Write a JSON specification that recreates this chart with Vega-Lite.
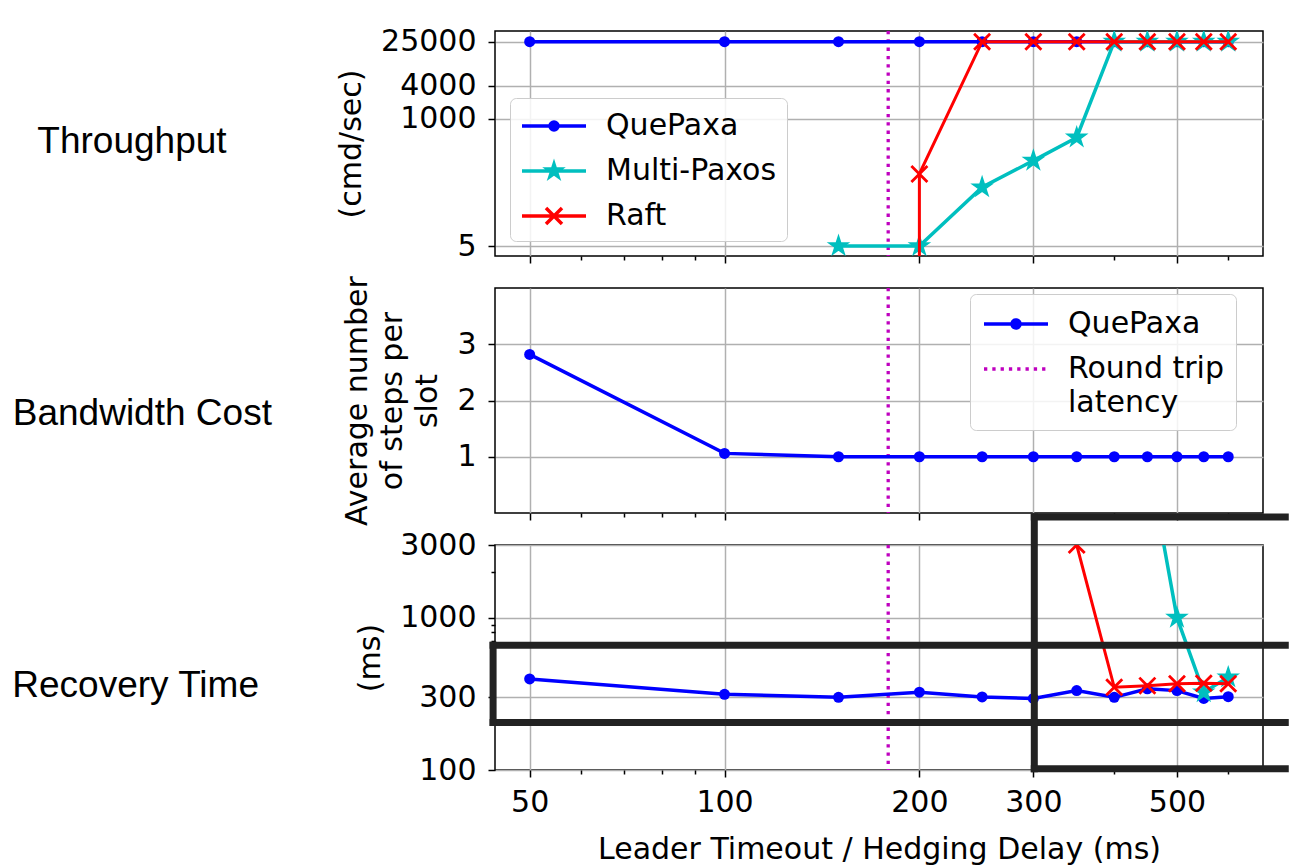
{
  "$schema": "https://vega.github.io/schema/vega-lite/v6.json",
  "background": "white",
  "padding": {"left": 11, "top": 25, "right": 0, "bottom": 0},
  "config": {
    "font": "DejaVu Sans",
    "view": {"stroke": "#000000", "strokeWidth": 1.5},
    "axis": {
      "domain": false,
      "labelFont": "DejaVu Sans", "labelFontSize": 30, "labelColor": "#000000",
      "titleFont": "DejaVu Sans", "titleFontSize": 30, "titleFontWeight": "normal", "titleColor": "#000000",
      "tickColor": "#000000", "tickWidth": 1.5, "tickSize": 7,
      "gridColor": "#b0b0b0", "gridWidth": 1.5, "gridOpacity": 1,
      "labelPadding": 12, "titlePadding": 14, "labelFlush": false, "labelOverlap": false
    },
    "legend": {
      "labelFont": "DejaVu Sans", "labelFontSize": 30, "labelColor": "#000000", "labelLimit": 500,
      "strokeColor": "#cccccc", "fillColor": "rgba(255,255,255,0.85)", "cornerRadius": 6,
      "padding": 10, "symbolStrokeWidth": 3.5, "symbolSize": 1024, "labelOffset": 50, "rowPadding": 12
    }
  },
  "datasets": {
    "tp": [
      {"s": "QuePaxa", "x": 50, "v": 25000, "o": 0},
      {"s": "QuePaxa", "x": 100, "v": 25000, "o": 1},
      {"s": "QuePaxa", "x": 150, "v": 25000, "o": 2},
      {"s": "QuePaxa", "x": 200, "v": 25000, "o": 3},
      {"s": "QuePaxa", "x": 250, "v": 25000, "o": 4},
      {"s": "QuePaxa", "x": 300, "v": 25000, "o": 5},
      {"s": "QuePaxa", "x": 350, "v": 25000, "o": 6},
      {"s": "QuePaxa", "x": 400, "v": 25000, "o": 7},
      {"s": "QuePaxa", "x": 450, "v": 25000, "o": 8},
      {"s": "QuePaxa", "x": 500, "v": 25000, "o": 9},
      {"s": "QuePaxa", "x": 550, "v": 25000, "o": 10},
      {"s": "QuePaxa", "x": 600, "v": 25000, "o": 11},
      {"s": "Multi-Paxos", "x": 150, "v": 5, "o": 0},
      {"s": "Multi-Paxos", "x": 200, "v": 5, "o": 1},
      {"s": "Multi-Paxos", "x": 250, "v": 58, "o": 2},
      {"s": "Multi-Paxos", "x": 300, "v": 176, "o": 3},
      {"s": "Multi-Paxos", "x": 350, "v": 462, "o": 4},
      {"s": "Multi-Paxos", "x": 400, "v": 25000, "o": 5},
      {"s": "Multi-Paxos", "x": 450, "v": 25000, "o": 6},
      {"s": "Multi-Paxos", "x": 500, "v": 25000, "o": 7},
      {"s": "Multi-Paxos", "x": 550, "v": 25000, "o": 8},
      {"s": "Multi-Paxos", "x": 600, "v": 25000, "o": 9},
      {"s": "Raft", "x": 200, "v": 1, "o": 0},
      {"s": "Raft", "x": 200, "v": 101, "o": 1},
      {"s": "Raft", "x": 250, "v": 25000, "o": 2},
      {"s": "Raft", "x": 300, "v": 25000, "o": 3},
      {"s": "Raft", "x": 350, "v": 25000, "o": 4},
      {"s": "Raft", "x": 400, "v": 25000, "o": 5},
      {"s": "Raft", "x": 450, "v": 25000, "o": 6},
      {"s": "Raft", "x": 500, "v": 25000, "o": 7},
      {"s": "Raft", "x": 550, "v": 25000, "o": 8},
      {"s": "Raft", "x": 600, "v": 25000, "o": 9}
    ],
    "bw": [
      {"s": "QuePaxa", "x": 50, "v": 2.82},
      {"s": "QuePaxa", "x": 100, "v": 1.06},
      {"s": "QuePaxa", "x": 150, "v": 1.0},
      {"s": "QuePaxa", "x": 200, "v": 1.0},
      {"s": "QuePaxa", "x": 250, "v": 1.0},
      {"s": "QuePaxa", "x": 300, "v": 1.0},
      {"s": "QuePaxa", "x": 350, "v": 1.0},
      {"s": "QuePaxa", "x": 400, "v": 1.0},
      {"s": "QuePaxa", "x": 450, "v": 1.0},
      {"s": "QuePaxa", "x": 500, "v": 1.0},
      {"s": "QuePaxa", "x": 550, "v": 1.0},
      {"s": "QuePaxa", "x": 600, "v": 1.0}
    ],
    "rc": [
      {"s": "QuePaxa", "x": 50, "v": 396},
      {"s": "QuePaxa", "x": 100, "v": 314},
      {"s": "QuePaxa", "x": 150, "v": 300},
      {"s": "QuePaxa", "x": 200, "v": 324},
      {"s": "QuePaxa", "x": 250, "v": 302},
      {"s": "QuePaxa", "x": 300, "v": 295},
      {"s": "QuePaxa", "x": 350, "v": 332},
      {"s": "QuePaxa", "x": 400, "v": 300},
      {"s": "QuePaxa", "x": 450, "v": 341},
      {"s": "QuePaxa", "x": 500, "v": 332},
      {"s": "QuePaxa", "x": 550, "v": 295},
      {"s": "QuePaxa", "x": 600, "v": 303},
      {"s": "Multi-Paxos", "x": 450, "v": 12000},
      {"s": "Multi-Paxos", "x": 500, "v": 1000},
      {"s": "Multi-Paxos", "x": 550, "v": 324},
      {"s": "Multi-Paxos", "x": 600, "v": 406},
      {"s": "Raft", "x": 350, "v": 3000},
      {"s": "Raft", "x": 400, "v": 349},
      {"s": "Raft", "x": 450, "v": 358},
      {"s": "Raft", "x": 500, "v": 368},
      {"s": "Raft", "x": 550, "v": 371},
      {"s": "Raft", "x": 600, "v": 368}
    ],
    "rtt": [{"s": "Round trip latency", "x": 179}],
    "box": [
      {"x": 43.9, "x2": 735, "y": 659, "y2": 659},
      {"x": 43.9, "x2": 735, "y": 205, "y2": 205},
      {"x": 43.9, "x2": 43.9, "y": 205, "y2": 659},
      {"x": 301, "x2": 735, "y": 4584, "y2": 4584},
      {"x": 301, "x2": 301, "y": 4584, "y2": 102},
      {"x": 301, "x2": 735, "y": 102, "y2": 102}
    ]
  },
  "spacing": 32,
  "bounds": "flush",
  "resolve": {"scale": {"color": "independent"}},
  "vconcat": [
    {
      "width": 768,
      "height": 225,
      "title": {"text": "Throughput", "orient": "left", "frame": "group", "anchor": "middle", "angle": 0, "align": "left", "baseline": "middle", "offset": 110, "dy": -2, "font": "Liberation Sans", "fontSize": 37, "fontWeight": "normal", "color": "#000000"},
      "resolve": {"axis": {"x": "independent", "y": "independent"}},
      "layer": [
        {
          "data": {"name": "rtt"},
          "mark": {"type": "rule", "color": "#bf00bf", "strokeWidth": 3.3, "strokeDash": [3.3, 5]},
          "encoding": {
            "x": {"field": "x", "type": "quantitative", "scale": {"type": "log", "domain": [44.2, 679], "nice": false},
                  "axis": {"orient": "bottom", "values": [60, 70, 80, 90, 400, 600], "labels": false, "grid": false, "tickSize": 4, "title": null}}
          }
        },
        {
          "data": {"name": "tp"},
          "transform": [{"filter": "datum.s == 'QuePaxa'"}],
          "mark": {"type": "line", "strokeWidth": 3.5, "clip": true},
          "encoding": {
            "x": {"field": "x", "type": "quantitative", "scale": {"type": "log", "domain": [44.2, 679], "nice": false},
                  "axis": {"orient": "bottom", "values": [50, 100, 200, 300, 500], "labels": false, "grid": true, "title": null}},
            "y": {"field": "v", "type": "quantitative", "scale": {"type": "log", "domain": [3.3, 39000], "nice": false},
                  "axis": {"orient": "left", "values": [5, 1000, 4000, 25000], "format": "d", "grid": true, "title": "(cmd/sec)"}},
            "color": {"field": "s", "type": "nominal",
              "scale": {"domain": ["QuePaxa", "Multi-Paxos", "Raft"], "range": ["#0000ff", "#00bfbf", "#ff0000"]},
              "legend": {
                "orient": "none", "legendX": 15, "legendY": 67, "title": null,
                "encode": {
                  "symbols": {"update": {
                    "shape": {"signal": "datum.value == 'QuePaxa' ? 'M-1,0L3,0M1.25,0A0.25,0.25,0,1,1,0.75,0A0.25,0.25,0,1,1,1.25,0Z' : datum.value == 'Multi-Paxos' ? 'M-1,0L3,0M1,-0.42L1.0943,-0.1298L1.3994,-0.1298L1.1525,0.0496L1.247,0.3398L1,0.1604L0.753,0.3398L0.8475,0.0496L0.6006,-0.1298L0.9057,-0.1298Z' : 'M-1,0L3,0M0.5,-0.5L1.5,0.5M0.5,0.5L1.5,-0.5'"},
                    "fill": {"signal": "datum.value == 'QuePaxa' ? '#0000ff' : datum.value == 'Multi-Paxos' ? '#00bfbf' : '#ff0000'"},
                    "stroke": {"signal": "datum.value == 'QuePaxa' ? '#0000ff' : datum.value == 'Multi-Paxos' ? '#00bfbf' : '#ff0000'"},
                    "opacity": {"value": 1}, "fillOpacity": {"value": 1}, "strokeOpacity": {"value": 1}
                  }}
                }
              }},
            "order": {"field": "o", "type": "quantitative"}
          }
        },
        {
          "data": {"name": "tp"},
          "transform": [{"filter": "datum.s == 'QuePaxa'"}],
          "mark": {"type": "point", "shape": "circle", "filled": true, "size": 121, "color": "#0000ff", "opacity": 1, "clip": true},
          "encoding": {
            "x": {"field": "x", "type": "quantitative", "scale": {"type": "log", "domain": [44.2, 679], "nice": false}, "axis": null},
            "y": {"field": "v", "type": "quantitative", "scale": {"type": "log", "domain": [3.3, 39000], "nice": false}, "axis": null}
          }
        },
        {
          "data": {"name": "tp"},
          "transform": [{"filter": "datum.s == 'Multi-Paxos'"}],
          "mark": {"type": "line", "strokeWidth": 3.5, "clip": true},
          "encoding": {
            "x": {"field": "x", "type": "quantitative", "scale": {"type": "log", "domain": [44.2, 679], "nice": false}, "axis": null},
            "y": {"field": "v", "type": "quantitative", "scale": {"type": "log", "domain": [3.3, 39000], "nice": false}, "axis": null},
            "color": {"field": "s", "type": "nominal", "scale": {"domain": ["QuePaxa", "Multi-Paxos", "Raft"], "range": ["#0000ff", "#00bfbf", "#ff0000"]}, "legend": null},
            "order": {"field": "o", "type": "quantitative"}
          }
        },
        {
          "data": {"name": "tp"},
          "transform": [{"filter": "datum.s == 'Multi-Paxos'"}],
          "mark": {"type": "point", "shape": "M0,-1L0.2245,-0.309L0.951,-0.309L0.363,0.118L0.588,0.809L0,0.382L-0.588,0.809L-0.363,0.118L-0.951,-0.309L-0.2245,-0.309Z", "filled": true, "size": 400, "color": "#00bfbf", "stroke": "#00bfbf", "strokeWidth": 1.5, "opacity": 1, "clip": true},
          "encoding": {
            "x": {"field": "x", "type": "quantitative", "scale": {"type": "log", "domain": [44.2, 679], "nice": false}, "axis": null},
            "y": {"field": "v", "type": "quantitative", "scale": {"type": "log", "domain": [3.3, 39000], "nice": false}, "axis": null}
          }
        },
        {
          "data": {"name": "tp"},
          "transform": [{"filter": "datum.s == 'Raft'"}],
          "mark": {"type": "line", "strokeWidth": 3, "clip": true},
          "encoding": {
            "x": {"field": "x", "type": "quantitative", "scale": {"type": "log", "domain": [44.2, 679], "nice": false}, "axis": null},
            "y": {"field": "v", "type": "quantitative", "scale": {"type": "log", "domain": [3.3, 39000], "nice": false}, "axis": null},
            "color": {"field": "s", "type": "nominal", "scale": {"domain": ["QuePaxa", "Multi-Paxos", "Raft"], "range": ["#0000ff", "#00bfbf", "#ff0000"]}, "legend": null},
            "order": {"field": "o", "type": "quantitative"}
          }
        },
        {
          "data": {"name": "tp"},
          "transform": [{"filter": "datum.s == 'Raft'"}],
          "mark": {"type": "point", "shape": "M-0.78,-1L0,-0.22L0.78,-1L1,-0.78L0.22,0L1,0.78L0.78,1L0,0.22L-0.78,1L-1,0.78L-0.22,0L-1,-0.78Z", "filled": true, "size": 324, "color": "#ff0000", "opacity": 1, "clip": true},
          "encoding": {
            "x": {"field": "x", "type": "quantitative", "scale": {"type": "log", "domain": [44.2, 679], "nice": false}, "axis": null},
            "y": {"field": "v", "type": "quantitative", "scale": {"type": "log", "domain": [3.3, 39000], "nice": false}, "axis": null}
          }
        }
      ]
    },
    {
      "width": 768,
      "height": 225,
      "title": {"text": "Bandwidth Cost", "orient": "left", "frame": "group", "anchor": "middle", "angle": 0, "align": "left", "baseline": "middle", "offset": 71, "dy": 13, "font": "Liberation Sans", "fontSize": 37, "fontWeight": "normal", "color": "#000000"},
      "resolve": {"axis": {"x": "independent", "y": "independent"}},
      "layer": [
        {
          "data": {"name": "rtt"},
          "mark": {"type": "rule", "strokeWidth": 3.3, "strokeDash": [3.3, 5]},
          "encoding": {
            "x": {"field": "x", "type": "quantitative", "scale": {"type": "log", "domain": [44.2, 679], "nice": false},
                  "axis": {"orient": "bottom", "values": [60, 70, 80, 90, 400, 600], "labels": false, "grid": false, "tickSize": 4, "title": null}},
            "color": {"field": "s", "type": "nominal",
              "scale": {"domain": ["QuePaxa", "Round trip latency"], "range": ["#0000ff", "#bf00bf"]},
              "legend": {
                "orient": "none", "legendX": 475, "legendY": 6, "title": null, "padding": 12,
                "labelExpr": "datum.label == 'Round trip latency' ? ['Round trip', 'latency'] : datum.label",
                "encode": {
                  "labels": {"update": {"lineHeight": {"value": 34}}},
                  "symbols": {"update": {
                    "shape": {"signal": "datum.value == 'QuePaxa' ? 'M-1,0L3,0M1.25,0A0.25,0.25,0,1,1,0.75,0A0.25,0.25,0,1,1,1.25,0Z' : 'M-1,0L3,0'"},
                    "fill": {"signal": "datum.value == 'QuePaxa' ? '#0000ff' : 'transparent'"},
                    "stroke": {"signal": "datum.value == 'QuePaxa' ? '#0000ff' : '#bf00bf'"},
                    "strokeDash": {"signal": "datum.value == 'QuePaxa' ? [1, 0] : [3.3, 5]"},
                    "opacity": {"value": 1}, "fillOpacity": {"value": 1}, "strokeOpacity": {"value": 1}
                  }}
                }
              }}
          }
        },
        {
          "data": {"name": "bw"},
          "mark": {"type": "line", "strokeWidth": 3.5, "clip": true},
          "encoding": {
            "x": {"field": "x", "type": "quantitative", "scale": {"type": "log", "domain": [44.2, 679], "nice": false},
                  "axis": {"orient": "bottom", "values": [50, 100, 200, 300, 500], "labels": false, "grid": true, "title": null}},
            "y": {"field": "v", "type": "quantitative", "scale": {"type": "linear", "domain": [0, 4], "nice": false, "zero": false},
                  "axis": {"orient": "left", "values": [1, 2, 3], "grid": true, "title": ["Average number", "of steps per", "slot"], "titleLineHeight": 35}},
            "color": {"field": "s", "type": "nominal",
              "scale": {"domain": ["QuePaxa", "Round trip latency"], "range": ["#0000ff", "#bf00bf"]}, "legend": null}
          }
        },
        {
          "data": {"name": "bw"},
          "mark": {"type": "point", "shape": "circle", "filled": true, "size": 121, "color": "#0000ff", "opacity": 1, "clip": true},
          "encoding": {
            "x": {"field": "x", "type": "quantitative", "scale": {"type": "log", "domain": [44.2, 679], "nice": false}, "axis": null},
            "y": {"field": "v", "type": "quantitative", "scale": {"type": "linear", "domain": [0, 4], "nice": false, "zero": false}, "axis": null}
          }
        }
      ]
    },
    {
      "width": 768,
      "height": 225,
      "title": {"text": "Recovery Time", "orient": "left", "frame": "group", "anchor": "middle", "angle": 0, "align": "left", "baseline": "middle", "offset": 96, "dy": 28, "font": "Liberation Sans", "fontSize": 37, "fontWeight": "normal", "color": "#000000"},
      "resolve": {"axis": {"x": "independent", "y": "independent"}},
      "layer": [
        {
          "data": {"name": "rtt"},
          "mark": {"type": "rule", "color": "#bf00bf", "strokeWidth": 3.3, "strokeDash": [3.3, 5]},
          "encoding": {
            "x": {"field": "x", "type": "quantitative", "scale": {"type": "log", "domain": [44.2, 679], "nice": false}, "axis": null}
          }
        },
        {
          "data": {"name": "rc"},
          "transform": [{"filter": "datum.s == 'QuePaxa'"}],
          "mark": {"type": "line", "strokeWidth": 3.5, "color": "#0000ff", "clip": true},
          "encoding": {
            "x": {"field": "x", "type": "quantitative", "scale": {"type": "log", "domain": [44.2, 679], "nice": false},
                  "axis": {"orient": "bottom", "values": [50, 100, 200, 300, 500], "format": "d", "grid": true, "labelPadding": 10, "titlePadding": 17, "title": "Leader Timeout / Hedging Delay (ms)"}},
            "y": {"field": "v", "type": "quantitative", "scale": {"type": "log", "domain": [100, 3000], "nice": false},
                  "axis": {"orient": "left", "values": [100, 300, 1000, 3000], "format": "d", "grid": true, "title": "(ms)"}}
          }
        },
        {
          "data": {"name": "rc"},
          "transform": [{"filter": "datum.s == 'QuePaxa'"}],
          "mark": {"type": "point", "shape": "circle", "filled": true, "size": 121, "color": "#0000ff", "opacity": 1, "clip": true},
          "encoding": {
            "x": {"field": "x", "type": "quantitative", "scale": {"type": "log", "domain": [44.2, 679], "nice": false},
                  "axis": {"orient": "bottom", "values": [60, 70, 80, 90, 400, 600], "labels": false, "grid": false, "tickSize": 4, "title": null}},
            "y": {"field": "v", "type": "quantitative", "scale": {"type": "log", "domain": [100, 3000], "nice": false},
                  "axis": {"orient": "left", "values": [200, 400, 500, 600, 700, 800, 900, 2000], "labels": false, "grid": false, "tickSize": 4, "title": null}}
          }
        },
        {
          "data": {"name": "rc"},
          "transform": [{"filter": "datum.s == 'Multi-Paxos'"}],
          "mark": {"type": "line", "strokeWidth": 3.5, "color": "#00bfbf", "clip": true},
          "encoding": {
            "x": {"field": "x", "type": "quantitative", "scale": {"type": "log", "domain": [44.2, 679], "nice": false}, "axis": null},
            "y": {"field": "v", "type": "quantitative", "scale": {"type": "log", "domain": [100, 3000], "nice": false}, "axis": null}
          }
        },
        {
          "data": {"name": "rc"},
          "transform": [{"filter": "datum.s == 'Multi-Paxos'"}],
          "mark": {"type": "point", "shape": "M0,-1L0.2245,-0.309L0.951,-0.309L0.363,0.118L0.588,0.809L0,0.382L-0.588,0.809L-0.363,0.118L-0.951,-0.309L-0.2245,-0.309Z", "filled": true, "size": 400, "color": "#00bfbf", "stroke": "#00bfbf", "strokeWidth": 1.5, "opacity": 1, "clip": true},
          "encoding": {
            "x": {"field": "x", "type": "quantitative", "scale": {"type": "log", "domain": [44.2, 679], "nice": false}, "axis": null},
            "y": {"field": "v", "type": "quantitative", "scale": {"type": "log", "domain": [100, 3000], "nice": false}, "axis": null}
          }
        },
        {
          "data": {"name": "rc"},
          "transform": [{"filter": "datum.s == 'Raft'"}],
          "mark": {"type": "line", "strokeWidth": 3, "color": "#ff0000", "clip": true},
          "encoding": {
            "x": {"field": "x", "type": "quantitative", "scale": {"type": "log", "domain": [44.2, 679], "nice": false}, "axis": null},
            "y": {"field": "v", "type": "quantitative", "scale": {"type": "log", "domain": [100, 3000], "nice": false}, "axis": null}
          }
        },
        {
          "data": {"name": "rc"},
          "transform": [{"filter": "datum.s == 'Raft'"}],
          "mark": {"type": "point", "shape": "M-0.78,-1L0,-0.22L0.78,-1L1,-0.78L0.22,0L1,0.78L0.78,1L0,0.22L-0.78,1L-1,0.78L-0.22,0L-1,-0.78Z", "filled": true, "size": 324, "color": "#ff0000", "opacity": 1, "clip": true},
          "encoding": {
            "x": {"field": "x", "type": "quantitative", "scale": {"type": "log", "domain": [44.2, 679], "nice": false}, "axis": null},
            "y": {"field": "v", "type": "quantitative", "scale": {"type": "log", "domain": [100, 3000], "nice": false}, "axis": null}
          }
        },
        {
          "data": {"name": "box"},
          "mark": {"type": "rule", "color": "#222222", "strokeWidth": 7, "strokeCap": "square", "clip": false},
          "encoding": {
            "x": {"field": "x", "type": "quantitative", "scale": {"type": "log", "domain": [44.2, 679], "nice": false}, "axis": null},
            "x2": {"field": "x2"},
            "y": {"field": "y", "type": "quantitative", "scale": {"type": "log", "domain": [100, 3000], "nice": false}, "axis": null},
            "y2": {"field": "y2"}
          }
        }
      ]
    }
  ]
}
